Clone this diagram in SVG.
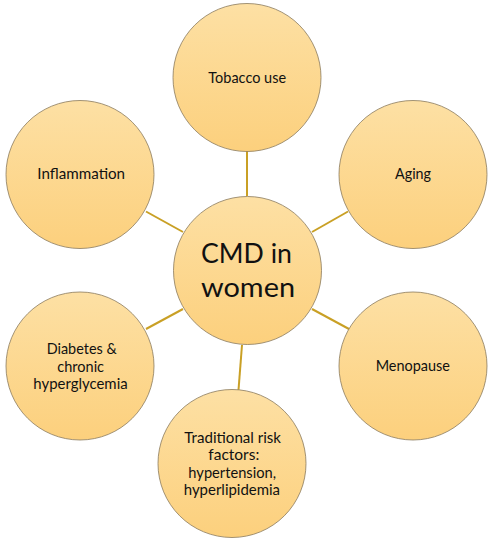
<svg xmlns="http://www.w3.org/2000/svg" width="500" height="548" viewBox="0 0 500 548">
<defs>
<linearGradient id="g" x1="0" y1="0" x2="0" y2="1">
<stop offset="0" stop-color="#FDE0A4"/>
<stop offset="1" stop-color="#FCD07D"/>
</linearGradient>
<style>
.n{fill:url(#g);stroke:#8A7A5C;stroke-width:0.8}
.c{stroke:#C9A025;stroke-width:2;fill:none}
.t{font-family:Lato,"Liberation Sans",Arial,sans-serif;font-size:14.4px;fill:#111;text-anchor:middle}
.b{font-family:Lato,"Liberation Sans",Arial,sans-serif;font-size:27px;fill:#111;text-anchor:middle}
</style>
</defs>
<rect width="500" height="548" fill="#fff"/>
<g id="connectors">
<line class="c" x1="247" y1="151" x2="247" y2="196"/>
<line class="c" x1="146" y1="211.5" x2="183" y2="232"/>
<line class="c" x1="348" y1="211.5" x2="312" y2="232"/>
<line class="c" x1="183" y1="309" x2="146" y2="329"/>
<line class="c" x1="312" y1="309" x2="349" y2="329"/>
<line class="c" x1="242" y1="345" x2="238.5" y2="390"/>
</g>
<g id="center">
<circle class="n" cx="247.5" cy="270.5" r="74"/>
<text class="b" x="246.5" y="262.7" textLength="91" lengthAdjust="spacingAndGlyphs">CMD in</text>
<text class="b" x="248" y="297" textLength="94" lengthAdjust="spacingAndGlyphs">women</text>
</g>
<g id="tobacco">
<circle class="n" cx="247" cy="77.5" r="74"/>
<text class="t" x="247.2" y="82.7" textLength="77.7" lengthAdjust="spacingAndGlyphs">Tobacco use</text>
</g>
<g id="inflammation">
<circle class="n" cx="80" cy="174.5" r="74"/>
<text class="t" x="81.2" y="179.3" textLength="87.7" lengthAdjust="spacingAndGlyphs">Inflammation</text>
</g>
<g id="aging">
<circle class="n" cx="413" cy="174.5" r="74"/>
<text class="t" x="413" y="179.3" textLength="36" lengthAdjust="spacingAndGlyphs">Aging</text>
</g>
<g id="diabetes">
<circle class="n" cx="80" cy="366" r="74"/>
<text class="t" x="81.7" y="354" textLength="70" lengthAdjust="spacingAndGlyphs">Diabetes &amp;</text>
<text class="t" x="80.7" y="371.6" textLength="46.7" lengthAdjust="spacingAndGlyphs">chronic</text>
<text class="t" x="80.5" y="389" textLength="94.3" lengthAdjust="spacingAndGlyphs">hyperglycemia</text>
</g>
<g id="menopause">
<circle class="n" cx="413" cy="366" r="74"/>
<text class="t" x="412.8" y="370.7" textLength="74.3" lengthAdjust="spacingAndGlyphs">Menopause</text>
</g>
<g id="traditional">
<circle class="n" cx="232" cy="463.5" r="74"/>
<text class="t" x="232.7" y="442.7" textLength="96.7" lengthAdjust="spacingAndGlyphs">Traditional risk</text>
<text class="t" x="233.8" y="460.3" textLength="51" lengthAdjust="spacingAndGlyphs">factors:</text>
<text class="t" x="232.2" y="477.7" textLength="87.7" lengthAdjust="spacingAndGlyphs">hypertension,</text>
<text class="t" x="231.9" y="495" textLength="96.3" lengthAdjust="spacingAndGlyphs">hyperlipidemia</text>
</g>
</svg>
